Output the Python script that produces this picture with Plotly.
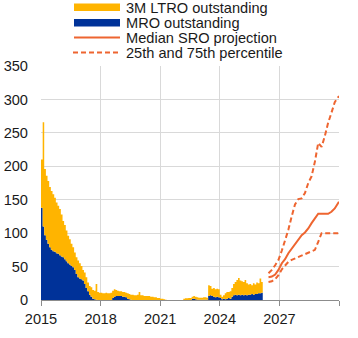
import pandas as pd
import plotly.graph_objects as go

# Monthly outstanding amounts (EUR bn), Jan 2015 - Mar 2026
months = pd.date_range("2015-01-01", "2026-03-01", freq="MS")

# Top of the stack: MRO + 3M LTRO outstanding
total_outstanding = [
    210, 266, 196, 186, 178, 169, 163, 158, 153, 146, 141, 136,   # 2015
    128, 118, 112, 104, 96, 91, 84, 79, 71, 64, 59, 55,           # 2016
    51, 45, 41, 34, 26, 21, 19, 15, 14, 24, 12, 11,               # 2017
    11, 10, 10, 11, 10, 10, 11, 14, 16, 15, 14, 13,               # 2018
    13, 12, 12, 11, 10, 9, 8, 8, 7, 7, 8, 12,                     # 2019
    7, 7, 6, 6, 6, 6, 5, 5, 4, 4, 3, 3,                           # 2020
    2, 2, 1, 0.5, 0, 0, 0, 0, 0, 0, 0, 0,                         # 2021
    0, 0, 2, 2.5, 2.5, 3, 3, 5, 6, 5, 4, 3.5,                     # 2022
    3.5, 3.5, 4, 4, 3.5, 22, 21, 17, 18, 16, 17, 16,              # 2023
    8, 5, 7, 10, 12, 12, 13, 18, 24, 27, 30, 33,                  # 2024
    29, 28, 27, 30, 25, 23, 24, 22, 25, 23, 26, 25,               # 2025
    32, 27, 27,                                                   # 2026
]

# Bottom of the stack: MRO outstanding
mro_outstanding = [
    138, 110, 97, 90, 84, 79, 75, 73, 72, 70, 69, 67,             # 2015
    65, 64, 61, 58, 55, 53, 51, 49, 45, 39, 34, 32,               # 2016
    31, 29, 24, 18, 13, 8, 5, 2, 1, 0.5, 0, 0,                    # 2017
    0, 0, 0, 0, 0, 0, 0, 3, 5, 6, 6, 6,                           # 2018
    6, 5, 5, 4, 2, 1, 0.5, 0, 0, 0, 0, 0,                         # 2019
    0, 0, 0, 0, 0, 0, 0, 0, 0, 0, 0, 0,                           # 2020
    0, 0, 0, 0, 0, 0, 0, 0, 0, 0, 0, 0,                           # 2021
    0, 0, 0, 0, 0, 0, 0, 2, 2, 1, 0.5, 0.5,                       # 2022
    0.5, 0.5, 0.5, 0.5, 0.5, 6, 7, 6, 5, 4, 5, 4,                 # 2023
    3, 1, 2, 1, 2, 3, 2, 5, 7, 8, 7, 8,                           # 2024
    7, 8, 7, 8, 7, 8, 8, 9, 8, 9, 9, 10,                          # 2025
    10, 11, 11,                                                   # 2026
]

# SRO projection path (bi-monthly)
proj_dates = [
    "2026-06-15", "2026-08-15", "2026-10-15", "2026-12-15",
    "2027-02-15", "2027-04-15", "2027-06-15", "2027-08-15", "2027-10-15", "2027-12-15",
    "2028-02-15", "2028-04-15", "2028-06-15", "2028-08-15", "2028-10-15", "2028-12-15",
    "2029-02-15", "2029-04-15", "2029-06-15", "2029-08-15", "2029-10-15", "2029-12-31",
]
sro_median = [34, 35, 38, 45, 55, 61, 70, 77, 83, 90, 97, 101,
              107, 115, 122, 129, 129, 129, 129, 132, 137, 147]
sro_p75 = [40, 45, 52, 60, 74, 88, 105, 125, 143, 151, 152, 160,
           175, 185, 207, 235, 229, 245, 265, 280, 296, 305]
sro_p25 = [27, 28, 31, 37, 46, 52, 57, 60, 62, 64, 67, 68,
           70, 72, 75, 87, 100, 100, 100, 100, 100, 100]

year_ticks = ["2015", "2018", "2021", "2024", "2027", "2030"]
y_ticks = [0, 50, 100, 150, 200, 250, 300, 350]

legend_labels = ["3M LTRO outstanding", "MRO outstanding",
                 "Median SRO projection", "25th and 75th percentile"]

YELLOW = "#FFB400"
BLUE = "#003299"
ORANGE = "#EE6530"
GRID = "#d9d9d9"
TEXT = "#1a1a1a"
FONT = "Liberation Sans, Arial, sans-serif"
FS = 14.6

W, H = 358, 338
L, R, T, B = 41, 19, 66, 38
PW, PH = W - L - R, H - T - B


def px(x):
    return (x - L) / PW


def py(y):
    return (H - B - y) / PH


fig = go.Figure()

fig.add_trace(go.Scatter(
    x=months, y=mro_outstanding, mode="lines", name=legend_labels[1],
    line=dict(width=0, shape="hv"), fill="tozeroy", fillcolor=BLUE,
))
fig.add_trace(go.Scatter(
    x=months, y=total_outstanding, mode="lines", name=legend_labels[0],
    line=dict(width=0, shape="hv"), fill="tonexty", fillcolor=YELLOW,
))
fig.add_trace(go.Scatter(
    x=proj_dates, y=sro_p75, mode="lines", name=legend_labels[3],
    line=dict(color=ORANGE, width=2, dash="5px,3px"),
))
fig.add_trace(go.Scatter(
    x=proj_dates, y=sro_p25, mode="lines", name=legend_labels[3],
    line=dict(color=ORANGE, width=2, dash="5px,3px"),
))
fig.add_trace(go.Scatter(
    x=proj_dates, y=sro_median, mode="lines", name=legend_labels[2],
    line=dict(color=ORANGE, width=2),
))

# Legend drawn above the plot area
shapes = [
    dict(type="rect", xref="paper", yref="paper", x0=px(74), x1=px(120),
         y0=py(11), y1=py(3.5), fillcolor=YELLOW, line=dict(width=0)),
    dict(type="rect", xref="paper", yref="paper", x0=px(74), x1=px(120),
         y0=py(26.5), y1=py(19), fillcolor=BLUE, line=dict(width=0)),
    dict(type="line", xref="paper", yref="paper", x0=px(74), x1=px(120),
         y0=py(37.5), y1=py(37.5), line=dict(color=ORANGE, width=2)),
    dict(type="line", xref="paper", yref="paper", x0=px(73), x1=px(120),
         y0=py(52.5), y1=py(52.5), line=dict(color=ORANGE, width=2, dash="5px,3px")),
]
row_y = [7.5, 22.8, 37.5, 52.5]
annotations = [
    dict(text=lab, xref="paper", yref="paper", x=px(124), y=py(yy),
         xanchor="left", yanchor="middle", showarrow=False,
         font=dict(family=FONT, size=FS, color=TEXT))
    for lab, yy in zip(legend_labels, row_y)
]

fig.update_layout(
    width=W, height=H,
    margin=dict(l=L, r=R, t=T, b=B, pad=0, autoexpand=False),
    paper_bgcolor="white", plot_bgcolor="white",
    showlegend=False,
    font=dict(family=FONT, size=FS, color=TEXT),
    shapes=shapes,
    annotations=annotations,
)
fig.update_xaxes(
    type="date", range=["2015-01-01", "2030-01-01"],
    tickvals=[f"{y}-01-01" for y in year_ticks],
    ticktext=year_ticks[:-1] + [""],
    showgrid=True, gridcolor=GRID, gridwidth=1,
    showline=True, linecolor="#8c8c8c", linewidth=1,
    ticks="outside", ticklen=5, tickcolor="#8c8c8c",
    zeroline=False, fixedrange=True, automargin=False,
)
fig.update_yaxes(
    range=[0, 350], tickvals=y_ticks,
    showgrid=True, gridcolor=GRID, gridwidth=1,
    showline=False, ticks="", ticklabelstandoff=12,
    zeroline=False, fixedrange=True, automargin=False,
)

fig.write_html("out.html", config={"displayModeBar": False})
